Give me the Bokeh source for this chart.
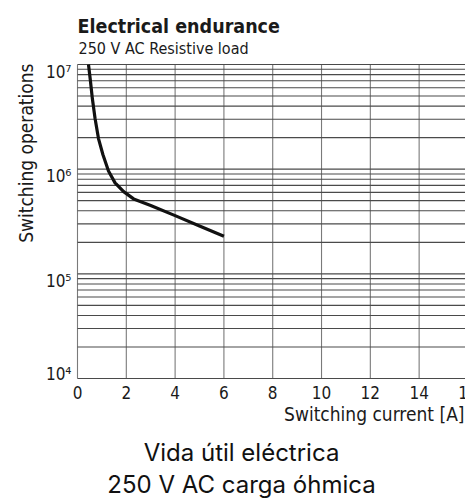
import math
from bokeh.plotting import figure
from bokeh.models import Range1d, LabelSet, ColumnDataSource
from bokeh.core.properties import value
from bokeh.embed import file_html
from bokeh.resources import INLINE

# ---- data ----
current = [0.45, 0.52, 0.61, 0.72, 0.86, 1.04, 1.27, 1.54, 1.89, 2.3, 3, 4, 5, 6]
operations = [1.0e7, 7.3e6, 4.7e6, 3.05e6, 1.96e6, 1.38e6, 9.6e5, 7.4e5,
              6.1e5, 5.2e5, 4.5e5, 3.6e5, 2.86e5, 2.29e5]
x_ticks = [0, 2, 4, 6, 8, 10, 12, 14, 16]
x_tick_labels = ["0", "2", "4", "6", "8", "10", "12", "14", "16"]
y_ticks = [1e4, 1e5, 1e6, 1e7]
y_tick_labels = ["10⁴", "10⁵", "10⁶", "10⁷"]
title_text = "Electrical endurance"
subtitle_text = "250 V AC Resistive load"
x_label = "Switching current [A]"
y_label = "Switching operations"
caption_lines = ["Vida útil eléctrica", "250 V AC carga óhmica"]

# ---- layout (frame covers the whole canvas; chart area inside it) ----
W, H = 465, 499
PL, PT, PB = 77, 64, 378          # chart area left / top / bottom in pixels
XMAX = 15.9                       # value at the right edge of the canvas
ppu = (W - PL) / XMAX
dec = (PB - PT) / 3.0

x0 = -PL / ppu
y0 = 10 ** (4 - (H - PB) / dec)
y1 = 10 ** (7 + PT / dec)

def sy(py):
    return H - py

COND = '"Liberation Sans Narrow", "DejaVu Sans Condensed", "Noto Sans Condensed", Roboto'
INK = "#1a1a1a"

p = figure(width=W, height=H, x_range=Range1d(x0, XMAX), y_range=Range1d(y0, y1),
           y_axis_type="log", output_backend="svg", toolbar_location=None,
           min_border=0)
p.xaxis.visible = False
p.yaxis.visible = False
p.xgrid.visible = False
p.ygrid.visible = False
p.outline_line_color = None
p.background_fill_color = "white"
p.border_fill_color = "white"

# grid: vertical lines at x ticks, horizontal lines at every log step
y_lo, y_hi = y_ticks[0], y_ticks[-1]
p.segment(x0=x_ticks, y0=[y_lo] * len(x_ticks), x1=x_ticks, y1=[y_hi] * len(x_ticks),
          line_color="#7a7a7a", line_width=1.1)
minor = [m * 10 ** k for k in range(4, 7) for m in range(1, 10)] + [1e7]
p.segment(x0=[x_ticks[0]] * len(minor), y0=minor, x1=[x_ticks[-1]] * len(minor), y1=minor,
          line_color="#4a4a4a", line_width=1.1)

p.line(current, operations, line_width=3.2, line_color="#111111", line_join="round")

def texts(xs, ys, ts, x_units="screen", font=COND, size="17px", style="normal",
          align="left", angle=0.0, color=INK):
    src = ColumnDataSource(dict(x=list(xs), y=list(ys), t=list(ts)))
    p.add_layout(LabelSet(x="x", y="y", text="t", source=src, x_units=x_units,
                          y_units="screen", text_align=align,
                          text_baseline="alphabetic", text_font=value(font),
                          text_font_size=size, text_font_style=style,
                          text_color=color, angle=angle))

# title & subtitle
texts([77], [sy(32)], [title_text], size="19.5px", style="bold")
texts([78], [sy(53)], [subtitle_text], size="16px")

# y axis label (rotated)
texts([32], [sy(63)], [y_label], size="19px", align="right", angle=math.pi / 2)

# y tick labels
ys = []
for v in y_ticks:
    line_py = PT + (7 - math.log10(v)) * dec
    shift = 1 if v == y_ticks[0] else 13
    ys.append(sy(line_py + shift))
texts([71] * len(y_ticks), ys, y_tick_labels, size="17px", align="right")

# x tick labels
texts(x_ticks, [sy(398)] * len(x_ticks), x_tick_labels, x_units="data",
      size="17px", align="center")

# x axis label
texts([464], [sy(420)], [x_label], size="19px", align="right")

# caption
texts([241, 241], [sy(460.5), sy(492)], caption_lines, font="Inter", size="24px",
      align="center", color="#111111")

open("out.html", "w").write(file_html(p, INLINE))
